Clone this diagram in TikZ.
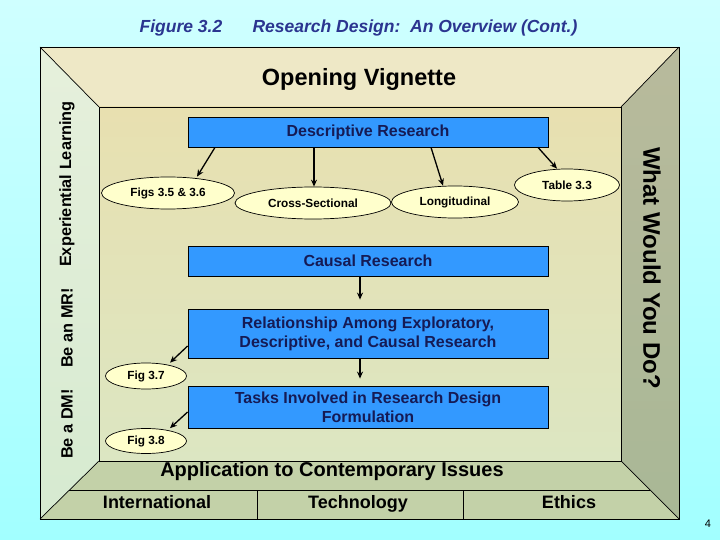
\documentclass[tikz,border=0pt]{standalone}
\usepackage{fontspec}
\setmainfont{Liberation Sans}
\usetikzlibrary{shapes.geometric,arrows.meta}
\definecolor{bgtop}{HTML}{CFFFFF}
\definecolor{bgbot}{HTML}{A2FFFF}
\definecolor{boxblue}{HTML}{3399FF}
\definecolor{boxtext}{HTML}{151B55}
\definecolor{ellfill}{HTML}{FFFFCC}
\definecolor{titleblue}{HTML}{2B3590}
\definecolor{topwall}{HTML}{EEE8C6}
\definecolor{leftwalltop}{HTML}{E6F0DC}
\definecolor{leftwallbot}{HTML}{D6EAD0}
\definecolor{rightwalltop}{HTML}{B8BA9C}
\definecolor{rightwallbot}{HTML}{A9B896}
\definecolor{botwall}{HTML}{C3D1A8}
\definecolor{floortop}{HTML}{E8E0B0}
\definecolor{floorbot}{HTML}{DCE6C2}
\begin{document}
\begin{tikzpicture}[x=1pt,y=-1pt,
  bluebox/.style={draw=black, fill=boxblue, line width=0.8pt, minimum width=360pt, inner sep=0pt, align=center, text=boxtext, font=\bfseries\fontsize{16}{19}\selectfont},
  ell/.style={ellipse, draw=black, fill=ellfill, line width=0.7pt, inner sep=0pt, font=\bfseries\fontsize{11.8}{13}\selectfont},
  arr/.style={-{Stealth[length=7pt,width=6pt]}, line width=1.3pt},
  wall/.style={draw=black, line width=0.7pt},
  sidelabel/.style={font=\bfseries\fontsize{16.3}{19}\selectfont},
  bottomlabel/.style={font=\bfseries\fontsize{18}{21}\selectfont, anchor=base}]
% background
\shade[top color=bgtop, bottom color=bgbot] (0,0) rectangle (720,540);
\useasboundingbox (0,0) rectangle (720,540);
% walls
\fill[topwall] (40,47) -- (679,47) -- (621,107) -- (99,107) -- cycle;
\shade[top color=leftwalltop, bottom color=leftwallbot] (40,47) -- (99,107) -- (99,461) -- (40,519) -- cycle;
\shade[top color=rightwalltop, bottom color=rightwallbot] (679,47) -- (621,107) -- (621,461) -- (679,519) -- cycle;
\fill[botwall] (40,519) -- (99,461) -- (621,461) -- (679,519) -- cycle;
\shade[top color=floortop, bottom color=floorbot] (99,107) rectangle (621,461);
\draw[wall] (40,47) rectangle (679,519);
\draw[wall] (99,107) rectangle (621,461);
\draw[wall] (40,47) -- (99,107);
\draw[wall] (679,47) -- (621,107);
\draw[wall] (40,519) -- (99,461);
\draw[wall] (679,519) -- (621,461);
\draw[wall] (69,490) -- (650,490);
\draw[wall] (257,490) -- (257,519);
\draw[wall] (463,490) -- (463,519);
% titles
\node[font=\bfseries\itshape\fontsize{17.5}{20}\selectfont, text=titleblue] (fig) at (181,28) {Figure 3.2};
\node[font=\bfseries\itshape\fontsize{17.5}{20}\selectfont, text=titleblue] (ttl) at (415,28) {Research Design:\ \ An Overview (Cont.)};
\node[font=\bfseries\fontsize{23.5}{26}\selectfont] (ov) at (359,79) {Opening Vignette};
\node[sidelabel, rotate=90] (exp) at (67,184) {Experiential Learning};
\node[sidelabel, rotate=90] (mr) at (67,328) {Be an MR!};
\node[sidelabel, rotate=90] (dm) at (67,424) {Be a DM!};
\node[font=\bfseries\fontsize{24}{27}\selectfont, rotate=-90] (wwyd) at (652,268) {What Would You Do?};
\node[font=\bfseries\fontsize{20}{23}\selectfont] (app) at (332,471) {Application to Contemporary Issues};
\node[bottomlabel] (intl) at (157,508.5) {International};
\node[bottomlabel] (tech) at (358,508.5) {Technology};
\node[bottomlabel] (eth) at (569,508.5) {Ethics};
\node[font=\fontsize{11}{13}\selectfont] (pg) at (708,524) {4};
% blue boxes
\node[bluebox, minimum height=30pt] (desc) at (368,132) {Descriptive Research};
\node[bluebox, minimum height=30pt] (causal) at (368,261) {Causal Research};
\node[bluebox, minimum height=49pt] (rel) at (368,333.5) {Relationship Among Exploratory,\\Descriptive, and Causal Research};
\node[bluebox, minimum height=42pt] (tasks) at (368,407) {Tasks Involved in Research Design\\Formulation};
% ellipses
\node[ell, minimum width=133pt, minimum height=32pt] (figs) at (168,193) {Figs 3.5 \& 3.6};
\node[ell, minimum width=156pt, minimum height=32pt] (cross) at (313,203) {Cross-Sectional};
\node[ell, minimum width=127pt, minimum height=32pt] (longi) at (455,202) {Longitudinal};
\node[ell, minimum width=105pt, minimum height=32pt] (table) at (567,185) {Table 3.3};
\node[ell, minimum width=81pt, minimum height=26pt] (fig37) at (146,376) {Fig 3.7};
\node[ell, minimum width=81pt, minimum height=25pt] (fig38) at (146,441) {Fig 3.8};
% arrows
\draw[arr] (desc.south -| 215,0) -- (figs.north -| 197,0);
\draw[arr] (desc.south -| 314,0) -- (cross.north -| 314,0);
\draw[arr] (desc.south -| 431,0) -- (longi.north -| 443,0);
\draw[arr] (desc.south -| 538,0) -- (table.north -| 557,0);
\draw[arr, shorten >=9pt] (causal.south -| 360,0) -- (rel.north -| 360,0);
\draw[arr, shorten >=7pt] (rel.south -| 360,0) -- (tasks.north -| 360,0);
\draw[arr] (rel.west |- 0,346) -- (fig37.north -| 170,0);
\draw[arr] (tasks.west |- 0,412) -- (fig38.north -| 170,0);
\end{tikzpicture}
\end{document}
